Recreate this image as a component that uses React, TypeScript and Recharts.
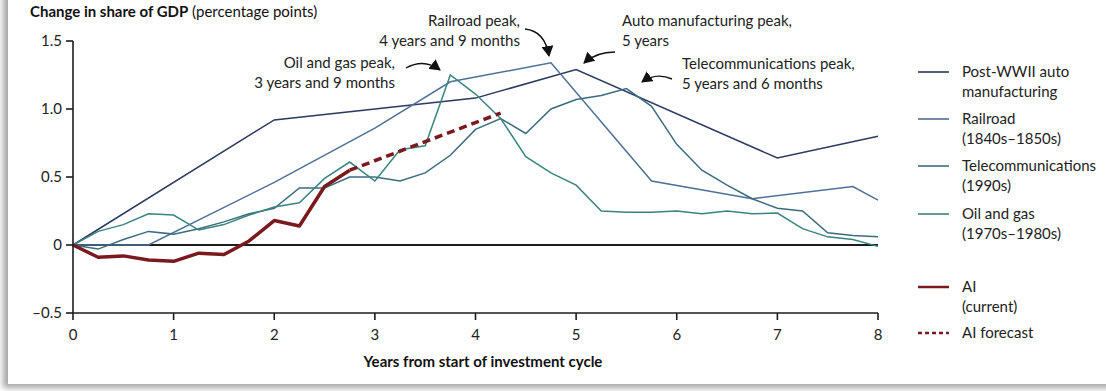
import { LineChart, Line, XAxis, YAxis, ReferenceLine } from 'recharts';

// quarterly grid used by the two noisier series
const quarters = [
  0, 0.25, 0.5, 0.75, 1, 1.25, 1.5, 1.75, 2, 2.25, 2.5, 2.75, 3, 3.25, 3.5, 3.75, 4,
  4.25, 4.5, 4.75, 5, 5.25, 5.5, 5.75, 6, 6.25, 6.5, 6.75, 7, 7.25, 7.5, 7.75, 8,
];

const autoYears = [0, 2, 4, 5, 7, 8];
const autoValues = [0, 0.92, 1.08, 1.29, 0.64, 0.8];

const railYears = [0, 0.75, 2, 3, 3.75, 4.75, 5.75, 6.75, 7.75, 8];
const railValues = [0, 0, 0.46, 0.86, 1.2, 1.34, 0.47, 0.34, 0.43, 0.33];

const telecomValues = [
  0, -0.03, 0.04, 0.1, 0.08, 0.12, 0.17, 0.23, 0.27, 0.42, 0.42, 0.5, 0.5, 0.47, 0.53, 0.66, 0.85,
  0.93, 0.82, 1.0, 1.07, 1.1, 1.15, 1.02, 0.74, 0.55, 0.44, 0.34, 0.27, 0.25, 0.09, 0.07, 0.06,
];

const oilValues = [
  0, 0.1, 0.15, 0.23, 0.22, 0.11, 0.15, 0.22, 0.28, 0.31, 0.49, 0.61, 0.47, 0.7, 0.73, 1.25, 1.11,
  0.93, 0.65, 0.53, 0.44, 0.25, 0.24, 0.24, 0.25, 0.23, 0.25, 0.23, 0.235, 0.12, 0.06, 0.04, -0.01,
];

const aiYears = [0, 0.25, 0.5, 0.75, 1, 1.25, 1.5, 1.75, 2, 2.25, 2.5, 2.75];
const aiValues = [0, -0.09, -0.08, -0.11, -0.12, -0.06, -0.07, 0.03, 0.18, 0.14, 0.43, 0.55];

const forecastYears = [2.75, 4.25];
const forecastValues = [0.55, 0.97];

const xTicks = [0, 1, 2, 3, 4, 5, 6, 7, 8];
const yTicks = [-0.5, 0, 0.5, 1, 1.5];
const yTickLabels = ['–0.5', '0', '0.5', '1.0', '1.5'];

const zip = (xs: number[], vs: number[]) => xs.map((x, i) => ({ x, v: vs[i] }));

const COLORS = {
  auto: '#2c3a5e',
  rail: '#4e7096',
  telecom: '#3c6c7e',
  oil: '#3a847e',
  ai: '#7a1a1e',
  axis: '#1c1c1c',
  text: '#222',
};

const FONT = 'Lato, "Open Sans", sans-serif';

const legendItems = [
  { lines: ['Post-WWII auto', 'manufacturing'], color: COLORS.auto, y: 72, dash: undefined, w: 1.6 },
  { lines: ['Railroad', '(1840s–1850s)'], color: COLORS.rail, y: 119, dash: undefined, w: 1.6 },
  { lines: ['Telecommunications', '(1990s)'], color: COLORS.telecom, y: 166, dash: undefined, w: 1.6 },
  { lines: ['Oil and gas', '(1970s–1980s)'], color: COLORS.oil, y: 214, dash: undefined, w: 1.6 },
  { lines: ['AI', '(current)'], color: COLORS.ai, y: 287, dash: undefined, w: 2.5 },
  { lines: ['AI forecast'], color: COLORS.ai, y: 333, dash: '4 3', w: 2.5 },
];

function Overlay() {
  const ts = { fontFamily: FONT, fontSize: 15, fill: COLORS.text };
  return (
    <svg
      width={1106}
      height={391}
      style={{ position: 'absolute', left: 0, top: 0, pointerEvents: 'none' }}
    >
      <defs>
        <marker
          id="head"
          markerUnits="userSpaceOnUse"
          markerWidth={12}
          markerHeight={12}
          refX={10}
          refY={6}
          orient="auto"
        >
          <path d="M0,0 L11,6 L0,12 z" fill="#111" />
        </marker>
      </defs>

      {/* title */}
      <text x={30} y={17} style={{ fontFamily: FONT, fontSize: 15, fill: '#111' }}>
        <tspan fontWeight={700}>Change in share of GDP</tspan>
        <tspan> (percentage points)</tspan>
      </text>

      {/* annotations */}
      <text x={395} y={68} textAnchor="end" style={ts}>Oil and gas peak,</text>
      <text x={395} y={88} textAnchor="end" style={ts}>3 years and 9 months</text>
      <path d="M406,68 Q424,58 440,70" fill="none" stroke="#111" strokeWidth={1.4} markerEnd="url(#head)" />

      <text x={520} y={26} textAnchor="end" style={ts}>Railroad peak,</text>
      <text x={520} y={46} textAnchor="end" style={ts}>4 years and 9 months</text>
      <path d="M525,29 Q545,31 549,56" fill="none" stroke="#111" strokeWidth={1.4} markerEnd="url(#head)" />

      <text x={622} y={26} style={ts}>Auto manufacturing peak,</text>
      <text x={622} y={46} style={ts}>5 years</text>
      <path d="M615,52 Q596,52 584,63" fill="none" stroke="#111" strokeWidth={1.4} markerEnd="url(#head)" />

      <text x={682} y={69} style={ts}>Telecommunications peak,</text>
      <text x={682} y={89} style={ts}>5 years and 6 months</text>
      <path d="M672,79 Q656,72 642,82" fill="none" stroke="#111" strokeWidth={1.4} markerEnd="url(#head)" />

      {/* x axis title */}
      <text
        x={483}
        y={367}
        textAnchor="middle"
        style={{ fontFamily: FONT, fontSize: 15, fontWeight: 700, fill: '#111' }}
      >
        Years from start of investment cycle
      </text>

      {/* legend */}
      {legendItems.map((it) => (
        <g key={it.lines[0]}>
          <line
            x1={918}
            x2={949}
            y1={it.y}
            y2={it.y}
            stroke={it.color}
            strokeWidth={it.w}
            strokeDasharray={it.dash}
          />
          {it.lines.map((l, i) => (
            <text key={l} x={962} y={it.y + 5 + i * 20} style={ts}>
              {l}
            </text>
          ))}
        </g>
      ))}
    </svg>
  );
}

export default function App() {
  return (
    <div style={{ position: 'relative', width: 1106, height: 391, background: '#fff', overflow: 'hidden' }}>
      <style>{'body{margin:0}'}</style>
      <div
        style={{
          position: 'absolute',
          left: 8,
          top: -10,
          width: 1110,
          height: 394,
          background: '#fff',
          boxShadow: '-5px 4px 6px rgba(0,0,0,0.35)',
        }}
      />
      <div style={{ position: 'absolute', left: 0, top: 0 }}>
        <LineChart width={1106} height={391} margin={{ top: 41, right: 228, bottom: 48, left: 0 }}>
          <XAxis
            type="number"
            dataKey="x"
            domain={[0, 8]}
            ticks={xTicks}
            interval={0}
            height={30}
            stroke={COLORS.axis}
            strokeWidth={1.6}
            tickSize={7}
            tickMargin={9}
            tick={{ fontFamily: FONT, fontSize: 15, fill: COLORS.text }}
          />
          <YAxis
            type="number"
            domain={[-0.5, 1.5]}
            ticks={yTicks}
            interval={0}
            width={73}
            stroke={COLORS.axis}
            strokeWidth={1.6}
            tickSize={7}
            tickMargin={4}
            tickFormatter={(v: number) => yTickLabels[yTicks.indexOf(v)]}
            tick={{ fontFamily: FONT, fontSize: 15, fill: COLORS.text }}
          />
          <ReferenceLine y={0} stroke={COLORS.axis} strokeWidth={2} />
          <Line
            data={zip(autoYears, autoValues)}
            dataKey="v"
            stroke={COLORS.auto}
            strokeWidth={1.5}
            dot={false}
            isAnimationActive={false}
          />
          <Line
            data={zip(railYears, railValues)}
            dataKey="v"
            stroke={COLORS.rail}
            strokeWidth={1.5}
            dot={false}
            isAnimationActive={false}
          />
          <Line
            data={zip(quarters, telecomValues)}
            dataKey="v"
            stroke={COLORS.telecom}
            strokeWidth={1.5}
            dot={false}
            isAnimationActive={false}
          />
          <Line
            data={zip(quarters, oilValues)}
            dataKey="v"
            stroke={COLORS.oil}
            strokeWidth={1.5}
            dot={false}
            isAnimationActive={false}
          />
          <Line
            data={zip(forecastYears, forecastValues)}
            dataKey="v"
            stroke={COLORS.ai}
            strokeWidth={3.5}
            strokeDasharray="8 5"
            dot={false}
            isAnimationActive={false}
          />
          <Line
            data={zip(aiYears, aiValues)}
            dataKey="v"
            stroke={COLORS.ai}
            strokeWidth={3.5}
            strokeLinejoin="round"
            dot={false}
            isAnimationActive={false}
          />
        </LineChart>
      </div>
      <Overlay />
    </div>
  );
}
